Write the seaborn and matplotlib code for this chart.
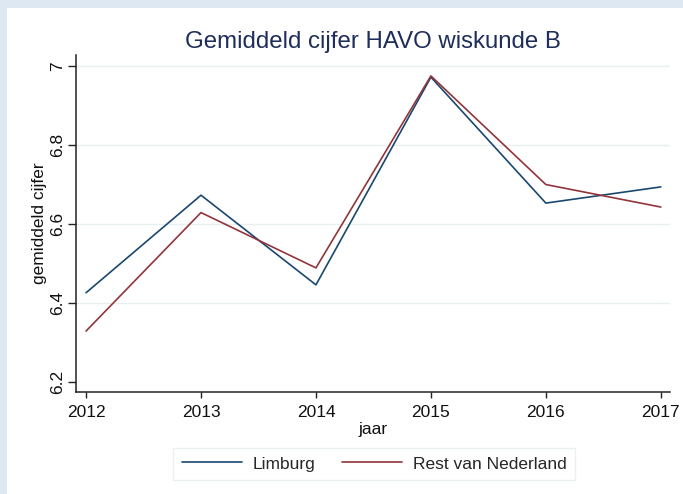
import pandas as pd
import numpy as np
import seaborn as sns
import matplotlib.pyplot as plt
from matplotlib.patches import Rectangle

years = [2012, 2013, 2014, 2015, 2016, 2017]
limburg = [6.426, 6.673, 6.446, 6.972, 6.653, 6.694]
rest_nl = [6.329, 6.629, 6.489, 6.975, 6.700, 6.643]
groups = ["Limburg", "Rest van Nederland"]
y_ticks = [6.2, 6.4, 6.6, 6.8, 7.0]
y_ticklabels = ["6.2", "6.4", "6.6", "6.8", "7"]

df = pd.DataFrame({
    "jaar": years * 2,
    "cijfer": limburg + rest_nl,
    "groep": [groups[0]] * len(years) + [groups[1]] * len(years),
})

sns.set_theme(style="white")
plt.rcParams['font.family'] = ['Liberation Sans', 'DejaVu Sans']

fig = plt.figure(figsize=(6.83, 4.94), dpi=100, facecolor="#dde8f3")
# white inner panel, light blue strip left and top
panel = Rectangle((7 / 683, 0), 1, 1 - 8 / 494, transform=fig.transFigure,
                  facecolor="white", edgecolor="none", zorder=-10)
fig.add_artist(panel)
ax = fig.add_axes([75.7 / 683, 102 / 494, (670 - 75.7) / 683, 337 / 494])
ax.set_facecolor("white")

sns.lineplot(data=df, x="jaar", y="cijfer", hue="groep", hue_order=groups,
             palette=["#1a476f", "#90353b"], linewidth=1.2, ax=ax)

ax.set_xlim(2011.910, 2017.08)
ax.set_ylim(6.1747, 7.028)
ax.set_xticks(years)
ax.set_yticks(y_ticks)
ax.set_yticklabels(y_ticklabels, rotation=90, va="center")

ax.grid(axis="y", color="#e8f0f2", linewidth=1.0)
ax.yaxis.get_gridlines()[0].set_visible(False)

for s in ["top", "right"]:
    ax.spines[s].set_visible(False)
for s in ["left", "bottom"]:
    ax.spines[s].set_color("#222222")
    ax.spines[s].set_linewidth(1.1)

ax.tick_params(axis="both", direction="out", width=1.0, color="#222222",
               labelsize=12.5, labelcolor="#111111")
ax.tick_params(axis="x", bottom=True, length=4.5, pad=5)
ax.tick_params(axis="y", left=True, length=5.8, pad=2)

ax.set_xlabel("jaar", fontsize=12.5, color="#111111", labelpad=1)
ax.set_ylabel("gemiddeld cijfer", fontsize=12.5, color="#111111", labelpad=2)
ax.set_title("Gemiddeld cijfer HAVO wiskunde B", fontsize=17.3, color="#1e2d5a", pad=5)

leg = ax.legend(loc="center", bbox_to_anchor=(374 / 683, 1 - 464 / 494),
                bbox_transform=fig.transFigure, ncol=2, frameon=True, fontsize=12.5,
                handlelength=3.5, handletextpad=0.6, columnspacing=1.5,
                borderpad=0.5, fancybox=False)
leg.get_frame().set_edgecolor("#e6eef0")
leg.get_frame().set_linewidth(1.0)

fig.savefig("out.png", dpi=100, facecolor=fig.get_facecolor())
